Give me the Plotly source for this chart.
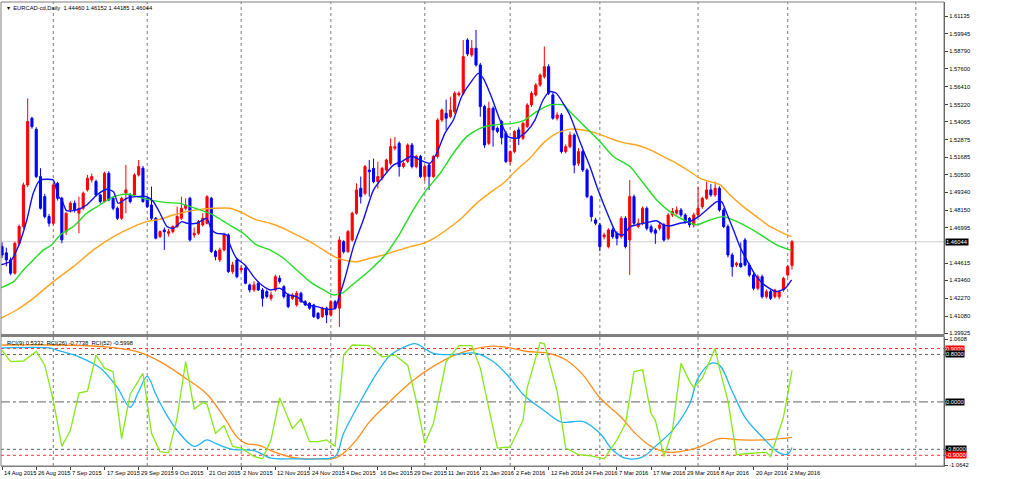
import pandas as pd
import plotly.graph_objects as go

# ---------------- data ----------------
holidays = ["2015-12-25", "2016-01-01"]
dates = [d for d in pd.bdate_range("2015-08-14", "2016-05-03")
         if d.strftime("%Y-%m-%d") not in holidays]
bars = list(range(len(dates)))

opens = [1.4572,1.4530,1.4483,1.4394,1.4594,1.4706,1.4984,1.5430,1.5356,1.5040,
         1.4906,1.4773,1.4728,1.4995,1.4895,1.4672,1.4817,1.4862,1.4795,1.4828,
         1.4951,1.5018,1.5007,1.4917,1.4873,1.5062,1.4895,1.4828,1.4761,1.4929,
         1.4917,1.4917,1.5051,1.5096,1.4895,1.4850,1.4761,1.4639,1.4683,1.4661,
         1.4672,1.4706,1.4761,1.4828,1.4895,1.4650,1.4661,1.4717,1.4728,1.4895,
         1.4539,1.4483,1.4550,1.4650,1.4405,1.4483,1.4416,1.4427,1.4316,1.4282,
         1.4327,1.4282,1.4271,1.4226,1.4282,1.4360,1.4304,1.4249,1.4226,1.4182,
         1.4260,1.4204,1.4193,1.4182,1.4126,1.4104,1.4160,1.4115,1.4204,1.4160,
         1.4605,1.4538,1.4616,1.4795,1.4962,1.4928,1.5084,1.5095,1.5006,1.5029,
         1.5084,1.5129,1.5229,1.5262,1.5107,1.5140,1.5251,1.5107,1.5174,1.5040,
         1.5118,1.5040,1.5174,1.5418,1.5463,1.5441,1.5474,1.5586,1.5597,1.5953,
         1.5853,1.5898,1.5786,1.5508,1.5262,1.5496,1.5363,1.5407,1.5330,1.5140,
         1.5207,1.5352,1.5296,1.5374,1.5519,1.5586,1.5652,1.5708,1.5775,1.5586,
         1.5430,1.5452,1.5207,1.5240,1.5318,1.5129,1.5207,1.5084,1.4906,1.4750,
         1.4717,1.4638,1.4572,1.4683,1.4661,1.4638,1.4761,1.4616,1.4906,1.4706,
         1.4728,1.4828,1.4705,1.4683,1.4694,1.4717,1.4627,1.4783,1.4795,1.4817,
         1.4783,1.4761,1.4717,1.4783,1.4839,1.4895,1.4951,1.4917,1.4962,1.4817,
         1.4706,1.4516,1.4449,1.4460,1.4616,1.4449,1.4382,1.4293,1.4371,1.4237,
         1.4271,1.4237,1.4237,1.4282,1.4382,1.44460]
highs = [1.4600,1.4565,1.4500,1.4605,1.4720,1.5000,1.5563,1.5440,1.5370,1.5096,
         1.4925,1.4790,1.4995,1.5005,1.4905,1.4800,1.4875,1.4880,1.4906,1.4940,
         1.5051,1.5060,1.5020,1.4925,1.5073,1.5075,1.4905,1.4840,1.4905,1.5118,
         1.4930,1.5062,1.5151,1.5111,1.4905,1.4973,1.4770,1.4680,1.4700,1.4690,
         1.4715,1.4839,1.4906,1.4895,1.4905,1.4700,1.4750,1.4795,1.4915,1.4905,
         1.4550,1.4565,1.4665,1.4660,1.4470,1.4495,1.4445,1.4440,1.4325,1.4340,
         1.4340,1.4295,1.4285,1.4270,1.4385,1.4380,1.4315,1.4260,1.4260,1.4275,
         1.4270,1.4215,1.4200,1.4190,1.4135,1.4170,1.4170,1.4215,1.4215,1.4640,
         1.4615,1.4683,1.4805,1.4995,1.5040,1.5118,1.5151,1.5160,1.5140,1.5105,
         1.5160,1.5296,1.5305,1.5275,1.5140,1.5262,1.5265,1.5185,1.5185,1.5118,
         1.5130,1.5185,1.5430,1.5495,1.5555,1.5574,1.5610,1.5610,1.5953,1.5965,
         1.5953,1.6020,1.5800,1.5520,1.5540,1.5510,1.5375,1.5420,1.5345,1.5215,
         1.5350,1.5370,1.5405,1.5530,1.5610,1.5665,1.5730,1.5909,1.5790,1.5600,
         1.5470,1.5465,1.5255,1.5340,1.5330,1.5230,1.5220,1.5095,1.4915,1.4765,
         1.4730,1.4665,1.4695,1.4700,1.4675,1.4775,1.4775,1.5017,1.4920,1.4760,
         1.4840,1.4840,1.4720,1.4695,1.4730,1.4730,1.4795,1.4830,1.4840,1.4830,
         1.4795,1.4770,1.4800,1.4973,1.4905,1.5006,1.4990,1.5006,1.4975,1.4830,
         1.4720,1.4530,1.4470,1.4600,1.4630,1.4460,1.4395,1.4385,1.4385,1.4285,
         1.4285,1.4290,1.4280,1.4370,1.4450,1.46152]
lows = [1.4495,1.4440,1.4380,1.4385,1.4580,1.4690,1.4970,1.5360,1.5030,1.4820,
        1.4760,1.4706,1.4715,1.4880,1.4594,1.4650,1.4800,1.4800,1.4661,1.4815,
        1.4940,1.5000,1.4905,1.4860,1.4865,1.4875,1.4815,1.4750,1.4750,1.4795,
        1.4860,1.4905,1.5040,1.4865,1.4830,1.4750,1.4620,1.4630,1.4550,1.4640,
        1.4660,1.4695,1.4750,1.4815,1.4605,1.4630,1.4650,1.4705,1.4720,1.4530,
        1.4480,1.4470,1.4540,1.4395,1.4390,1.4360,1.4400,1.4320,1.4265,1.4270,
        1.4275,1.4171,1.4225,1.4210,1.4270,1.4325,1.4225,1.4160,1.4215,1.4170,
        1.4195,1.4175,1.4150,1.4095,1.4085,1.4095,1.4060,1.4105,1.4150,1.4035,
        1.4525,1.4530,1.4605,1.4785,1.4860,1.4915,1.4906,1.4995,1.4960,1.5015,
        1.5070,1.5115,1.5215,1.5040,1.5095,1.5130,1.5095,1.5095,1.5030,1.5010,
        1.4951,1.5030,1.5160,1.5405,1.5352,1.5430,1.5460,1.5575,1.5585,1.5845,
        1.5840,1.5775,1.5440,1.5232,1.5250,1.5240,1.5330,1.5255,1.5130,1.5120,
        1.5195,1.5251,1.5285,1.5365,1.5505,1.5575,1.5640,1.5695,1.5585,1.5420,
        1.5415,1.5195,1.5195,1.5230,1.5062,1.5110,1.5070,1.4895,1.4740,1.4715,
        1.4540,1.4620,1.4560,1.4625,1.4580,1.4625,1.4560,1.4382,1.4715,1.4695,
        1.4715,1.4680,1.4660,1.4590,1.4680,1.4605,1.4615,1.4770,1.4785,1.4770,
        1.4725,1.4700,1.4700,1.4770,1.4825,1.4885,1.4905,1.4905,1.4805,1.4695,
        1.4500,1.4371,1.4435,1.4430,1.4440,1.4370,1.4280,1.4280,1.4225,1.4225,
        1.4215,1.4225,1.4220,1.4270,1.4370,1.44185]
closes = [1.4516,1.4483,1.4394,1.4594,1.4706,1.4984,1.5408,1.5374,1.5040,1.4828,
          1.4773,1.4728,1.4984,1.4895,1.4617,1.4795,1.4862,1.4817,1.4828,1.4929,
          1.5029,1.5040,1.4917,1.4873,1.5062,1.4884,1.4828,1.4761,1.4895,1.4951,
          1.4873,1.5051,1.5107,1.4873,1.4839,1.4761,1.4628,1.4672,1.4672,1.4672,
          1.4706,1.4773,1.4828,1.4850,1.4617,1.4661,1.4739,1.4761,1.4906,1.4539,
          1.4505,1.4550,1.4650,1.4405,1.4449,1.4371,1.4427,1.4327,1.4282,1.4316,
          1.4282,1.4226,1.4238,1.4249,1.4371,1.4338,1.4238,1.4171,1.4249,1.4260,
          1.4204,1.4182,1.4160,1.4104,1.4093,1.4160,1.4115,1.4204,1.4160,1.4616,
          1.4538,1.4672,1.4795,1.4951,1.4906,1.5107,1.5073,1.5006,1.5040,1.5095,
          1.5151,1.5240,1.5240,1.5107,1.5129,1.5251,1.5107,1.5174,1.5040,1.5107,
          1.5040,1.5174,1.5418,1.5485,1.5430,1.5485,1.5597,1.5597,1.5842,1.5860,
          1.5898,1.5786,1.5508,1.5251,1.5496,1.5352,1.5341,1.5300,1.5140,1.5207,
          1.5341,1.5296,1.5396,1.5519,1.5597,1.5652,1.5719,1.5775,1.5597,1.5430,
          1.5452,1.5207,1.5240,1.5318,1.5117,1.5207,1.5084,1.4906,1.4772,1.4728,
          1.4572,1.4650,1.4683,1.4638,1.4627,1.4761,1.4572,1.4906,1.4728,1.4728,
          1.4828,1.4694,1.4672,1.4661,1.4717,1.4616,1.4783,1.4806,1.4817,1.4783,
          1.4739,1.4717,1.4783,1.4828,1.4895,1.4951,1.4917,1.4962,1.4817,1.4706,
          1.4516,1.4438,1.4460,1.4438,1.4449,1.4382,1.4293,1.4371,1.4237,1.4271,
          1.4226,1.4282,1.4271,1.4360,1.4438,1.46044]

# moving averages (bar position, price)
fast_x = [-0.5,1.9,3.8,5.8,7.3,8.9,10.5,12.0,13.2,14.0,15.1,17.5,19.8,22.2,24.5,26.1,27.2,29.2,31.5,33.9,
          35.4,37.0,38.6,40.1,42.1,43.3,45.6,47.9,49.1,50.3,52.6,53.4,54.9,56.9,58.9,60.8,62.8,65.1,67.1,69.0,
          71.4,73.7,76.1,78.0,79.2,80.3,82.3,84.6,87.0,89.3,91.7,93.6,95.9,97.9,100.2,101.8,103.7,105.7,107.6,109.6,
          111.5,112.7,114.6,116.6,118.5,120.5,122.8,124.8,126.7,128.3,129.8,131.4,133.0,134.6,136.1,137.7,139.3,140.8,142.4,143.9,
          145.5,147.1,148.6,151.0,153.3,154.9,156.4,158.8,161.1,163.1,165.0,167.4,168.5,169.7,171.3,172.8,174.4,176.7,179.1,181.4,
          183.4,184.9]
fast_y = [1.4449,1.4472,1.4572,1.4750,1.4928,1.5017,1.5022,1.5017,1.4906,1.4884,1.4812,1.4817,1.4850,1.4917,1.4955,1.4939,1.4861,1.4895,1.4906,1.4906,
          1.4873,1.4795,1.4706,1.4694,1.4739,1.4728,1.4728,1.4761,1.4683,1.4661,1.4650,1.4583,1.4494,1.4449,1.4371,1.4315,1.4282,1.4293,1.4249,1.4237,
          1.4182,1.4171,1.4153,1.4160,1.4260,1.4360,1.4572,1.4750,1.4951,1.5040,1.5118,1.5140,1.5178,1.5151,1.5129,1.5196,1.5329,1.5418,1.5574,1.5663,
          1.5730,1.5697,1.5574,1.5418,1.5307,1.5296,1.5340,1.5418,1.5552,1.5608,1.5597,1.5530,1.5450,1.5329,1.5218,1.5106,1.4973,1.4861,1.4750,1.4661,
          1.4650,1.4705,1.4717,1.4732,1.4745,1.4717,1.4710,1.4728,1.4739,1.4772,1.4817,1.4872,1.4872,1.4795,1.4683,1.4572,1.4483,1.4371,1.4304,1.4271,
          1.4293,1.4349]
mid_x = [-0.5,2.7,5.0,7.3,9.7,11.6,13.6,16.7,19.8,22.9,26.1,29.2,32.3,35.4,38.6,41.7,44.0,46.4,49.5,52.6,
         56.5,59.6,62.8,65.9,69.0,72.1,75.3,77.6,79.9,81.5,86.2,89.7,93.2,96.3,99.4,102.6,105.7,108.8,111.9,115.1,
         119.7,122.1,125.2,128.3,131.5,133.0,136.1,140.0,143.2,147.1,150.2,153.3,156.4,159.6,162.7,165.8,168.9,172.1,175.2,178.3,
         181.4,184.9]
mid_y = [1.4293,1.4338,1.4416,1.4483,1.4550,1.4583,1.4650,1.4706,1.4795,1.4850,1.4906,1.4924,1.4901,1.4879,1.4866,1.4861,1.4839,1.4817,1.4783,1.4728,
         1.4661,1.4583,1.4549,1.4494,1.4416,1.4338,1.4282,1.4249,1.4265,1.4304,1.4416,1.4516,1.4661,1.4817,1.4951,1.5062,1.5196,1.5307,1.5363,1.5385,
         1.5396,1.5414,1.5474,1.5519,1.5519,1.5474,1.5385,1.5274,1.5173,1.5106,1.4995,1.4884,1.4806,1.4750,1.4717,1.4750,1.4772,1.4739,1.4694,1.4639,
         1.4583,1.4545]
slow_x = [-0.5,3.4,7.3,12.0,16.7,21.4,26.1,30.8,33.9,37.0,40.1,43.3,46.4,49.5,53.4,56.5,59.6,62.8,65.9,69.0,
          72.1,75.3,77.6,79.9,83.1,86.2,89.3,92.5,95.6,98.7,101.8,104.9,108.0,111.1,114.3,117.4,120.5,123.6,126.7,129.8,
          133.0,136.1,139.3,142.4,145.5,148.6,151.8,154.9,158.0,161.1,163.5,165.8,168.2,170.5,173.6,176.7,179.9,183.0,184.9]
slow_y = [1.4090,1.4148,1.4226,1.4338,1.4438,1.4550,1.4639,1.4706,1.4739,1.4755,1.4783,1.4806,1.4821,1.4828,1.4828,1.4794,1.4750,1.4728,1.4694,1.4650,
          1.4605,1.4549,1.4509,1.4483,1.4471,1.4494,1.4516,1.4545,1.4572,1.4594,1.4639,1.4701,1.4772,1.4861,1.4933,1.4995,1.5084,1.5162,1.5262,1.5329,
          1.5357,1.5351,1.5329,1.5296,1.5267,1.5251,1.5218,1.5173,1.5129,1.5073,1.5028,1.5006,1.4984,1.4917,1.4839,1.4772,1.4705,1.4661,1.4639]

# RCI oscillators (bar, value)
rci9_x = [0,2,5,8,10,12,14,16,18,20,22,24,26,28,30,33,35,37,39,41,43,45,47,48,50,52,54,56,59,61,63,65,68,70,72,74,76,78,80,82,
          86,89,92,95,97,99,101,104,107,110,112,116,119,122,123,126,127,130,132,135,138,141,144,146,148,150,152,153,155,157,159,161,162,164,167,168,170,172,175,179,
          180,183,185]
rci9_y = [0.87,0.68,0.69,0.85,0.62,0.02,-0.75,-0.48,0.15,0.18,0.79,0.57,0.51,-0.62,0.13,0.48,-0.53,-0.84,-0.86,-0.26,
          0.68,-0.12,-0.01,-0.04,-0.53,-0.40,-0.75,-0.78,-0.92,-0.96,-0.64,0.07,-0.45,-0.29,-0.67,-0.67,-0.64,-0.75,0.79,0.96,
          0.95,0.76,0.79,0.62,0.02,-0.70,-0.37,0.68,0.95,0.95,0.57,-0.78,-0.76,-0.31,0.24,1.0,0.98,0.18,-0.78,-0.89,
          -0.91,-0.96,-0.64,-0.37,0.51,0.54,-0.20,-0.31,-0.92,-0.48,0.65,0.35,0.24,0.40,0.90,0.57,0.02,-0.89,-0.87,-0.85,
          -0.92,-0.26,0.53]
rci26_x = [0,11,13,18,23,27,30,32,34,36,38,41,45,48,50,54,59,63,68,74,78,80,84,88,91,95,97,101,106,111,
           115,119,122,127,131,136,140,143,146,150,153,157,161,163,166,168,171,174,178,182,184,185]
rci26_y = [0.91,0.91,0.87,0.76,0.57,0.24,-0.09,0.18,0.43,0.13,-0.15,-0.48,-0.75,-0.64,-0.70,-0.80,-0.82,-0.95,-0.96,-0.96,
           -0.92,-0.53,0.02,0.51,0.79,0.95,0.98,0.82,0.80,0.82,0.68,0.40,0.13,-0.15,-0.34,-0.33,-0.53,-0.81,-0.95,-0.93,
           -0.75,-0.48,-0.04,0.40,0.65,0.62,0.18,-0.26,-0.59,-0.86,-0.88,-0.77]
rci52_x = [0,12,19,24,32,37,43,48,52,55,57,60,64,69,74,78,80,83,86,91,96,101,106,111,115,119,123,128,132,136,
           140,145,148,152,156,161,164,168,173,179,185]
rci52_y = [0.96,0.96,0.95,0.93,0.84,0.68,0.40,0.13,-0.26,-0.59,-0.70,-0.73,-0.85,-0.95,-0.96,-0.95,-0.86,-0.64,-0.34,0.02,
           0.35,0.60,0.79,0.90,0.94,0.91,0.85,0.82,0.71,0.46,0.07,-0.26,-0.51,-0.75,-0.85,-0.81,-0.74,-0.62,-0.64,-0.64,
           -0.60]

price_ticks = [1.61135,1.59945,1.58790,1.57600,1.56410,1.55220,1.54065,1.52875,1.51685,1.50530,
               1.49340,1.48150,1.46995,1.44615,1.43460,1.42270,1.41080,1.39925]
rci_ticks = [1.0608, -1.0642]
rci_levels = [0.9, 0.8, 0.0, -0.8, -0.9]
last_price = 1.46044
title_text = "\u25be  EURCAD-cd,Daily  1.44460 1.46152 1.44185 1.46044"
rci_text = "RCI(9) 0.5332  RCI(26) -0.7738  RCI(52) -0.5998"
extra_grid_bars = [214]

# ---------------- figure ----------------
FONT = "Liberation Sans"
FS = 5.8
fig = go.Figure()

fig.add_trace(go.Candlestick(
    x=bars, open=opens, high=highs, low=lows, close=closes,
    increasing=dict(line=dict(color="#FF0000", width=1), fillcolor="#FF0000"),
    decreasing=dict(line=dict(color="#0000FF", width=1), fillcolor="#0000FF"),
    whiskerwidth=0, showlegend=False, hoverinfo="skip", xaxis="x", yaxis="y"))

for xs, ys, col in [(slow_x, slow_y, "#FFA31A"), (mid_x, mid_y, "#22DD22"), (fast_x, fast_y, "#1010EE")]:
    fig.add_trace(go.Scatter(x=xs, y=ys, mode="lines", line=dict(color=col, width=1.4, shape="spline", smoothing=0.6),
                             showlegend=False, hoverinfo="skip", xaxis="x", yaxis="y"))

for xs, ys, col, shp in [(rci52_x, rci52_y, "#FF8C1A", "spline"), (rci26_x, rci26_y, "#22B4F0", "spline"),
                         (rci9_x, rci9_y, "#86E81A", "linear")]:
    fig.add_trace(go.Scatter(x=xs, y=ys, mode="lines", line=dict(color=col, width=1.3, shape=shp),
                             showlegend=False, hoverinfo="skip", xaxis="x2", yaxis="y2"))

shapes = []
month_starts = [i for i in range(1, len(dates)) if dates[i].month != dates[i - 1].month]
for b in month_starts + extra_grid_bars:
    shapes.append(dict(type="line", xref="x", yref="paper", x0=b, x1=b, y0=0, y1=1,
                       line=dict(color="#7A7A7A", width=1, dash="dot"), layer="below"))
shapes.append(dict(type="line", xref="paper", yref="y", x0=0, x1=1, y0=last_price, y1=last_price,
                   line=dict(color="#C8CDD2", width=1), layer="below"))
lvl_style = {0.9: ("#FF3030", "dot"), 0.8: ("#606060", "dot"), 0.0: ("#606060", "dashdot"),
             -0.8: ("#606060", "dot"), -0.9: ("#FF3030", "dot")}
for v in rci_levels:
    c, d = lvl_style[v]
    shapes.append(dict(type="line", xref="paper", yref="y2", x0=0, x1=1, y0=v, y1=v,
                       line=dict(color=c, width=1, dash=d), layer="below"))
# panel separator and frame
shapes.append(dict(type="line", xref="paper", yref="paper", x0=0, x1=1.0, y0=0.2815, y1=0.2815,
                   line=dict(color="#7F7F7F", width=3)))
shapes.append(dict(type="rect", xref="paper", yref="paper", x0=0, x1=1, y0=0, y1=1,
                   line=dict(color="#7F7F7F", width=1)))

annotations = [
    dict(text=title_text, xref="paper", yref="paper", x=0, y=1, xanchor="left", yanchor="top",
         xshift=4, yshift=-1, showarrow=False, font=dict(family=FONT, size=FS, color="#000000")),
    dict(text=rci_text, xref="paper", yref="paper", x=0, y=0.278, xanchor="left", yanchor="top",
         xshift=4, yshift=-1, showarrow=False, font=dict(family=FONT, size=FS, color="#000000")),
    dict(text=f"{last_price:.5f}", xref="paper", yref="y", x=1, y=last_price, xanchor="left", yanchor="middle",
         xshift=1, showarrow=False, bgcolor="#000000", borderpad=0,
         font=dict(family=FONT, size=FS, color="#FFFFFF")),
]
for v in rci_levels:
    bg = "#FF0000" if abs(v) == 0.9 else "#000000"
    annotations.append(dict(text=f"{v:.4f}", xref="paper", yref="y2", x=1, y=v, xanchor="left", yanchor="middle",
                            xshift=1, showarrow=False, bgcolor=bg, borderpad=0,
                            font=dict(family=FONT, size=FS, color="#FFFFFF")))
label_bars = list(range(0, len(dates), 8))
for b in label_bars:
    d = dates[b]
    annotations.append(dict(text=f"{d.day} {d.strftime('%b %Y')}", xref="x2", yref="paper", x=b, y=0,
                            xanchor="left", yanchor="top", xshift=0, yshift=-2, showarrow=False,
                            font=dict(family=FONT, size=FS, color="#000000")))

x_range = [-0.25, 220.6]
fig.update_layout(
    width=1024, height=479, margin=dict(l=1, r=80, t=2, b=13),
    paper_bgcolor="#FFFFFF", plot_bgcolor="#FFFFFF", showlegend=False,
    xaxis=dict(domain=[0, 1], range=x_range, anchor="y", showticklabels=False, showgrid=False,
               zeroline=False, rangeslider=dict(visible=False), fixedrange=True),
    xaxis2=dict(domain=[0, 1], range=x_range, anchor="y2", matches="x", showgrid=False, zeroline=False,
                tickmode="array", tickvals=label_bars, showticklabels=False,
                ticks="outside", ticklen=3, tickcolor="#404040", showline=True, linecolor="#7F7F7F"),
    yaxis=dict(domain=[0.2845, 1], range=[1.39877, 1.62071], side="right", anchor="x",
               tickmode="array", tickvals=price_ticks, ticktext=[f"{t:.5f}" for t in price_ticks],
               ticks="outside", ticklen=3, tickcolor="#404040", showgrid=False, zeroline=False,
               showline=True, linecolor="#505050", linewidth=1,
               tickfont=dict(family=FONT, size=FS, color="#000000")),
    yaxis2=dict(domain=[0, 0.278], range=[-1.081, 1.0945], side="right", anchor="x2",
                tickmode="array", tickvals=rci_ticks + rci_levels,
                ticktext=[f"{t:.4f}" for t in rci_ticks] + [""] * len(rci_levels),
                ticks="outside", ticklen=3, tickcolor="#404040", showgrid=False, zeroline=False,
                showline=True, linecolor="#505050", linewidth=1,
                tickfont=dict(family=FONT, size=FS, color="#000000")),
    shapes=shapes, annotations=annotations,
)

fig.write_html("out.html", config={"displayModeBar": False},
               post_script="document.body.style.margin='0';document.body.style.padding='0';")
